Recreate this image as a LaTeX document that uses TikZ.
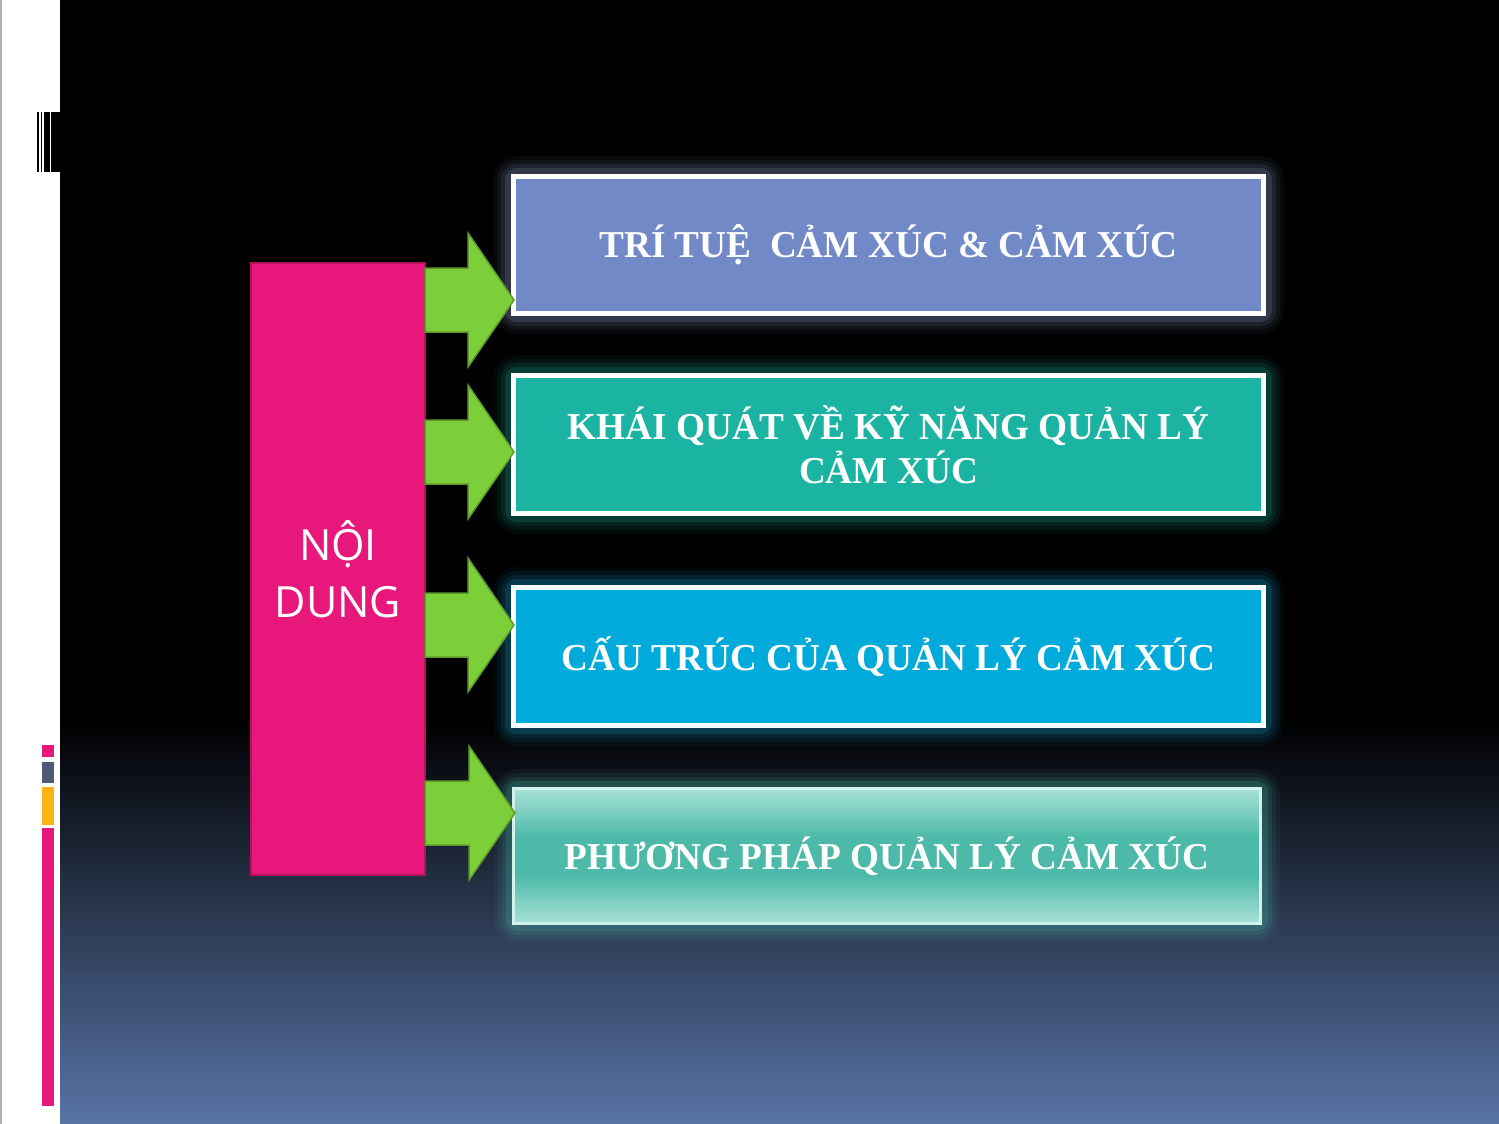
\documentclass[tikz,border=0pt]{standalone}
\usepackage{fontspec}
\setmainfont{Liberation Serif}
\newfontfamily\boxfont[FakeStretch=0.98]{Liberation Serif}
\newfontfamily\sidefont{Open Sans}
\usetikzlibrary{calc}

\definecolor{bgblue}{HTML}{5874A6}
\definecolor{pinkbox}{HTML}{E8177B}
\definecolor{pinkedge}{HTML}{B5125E}
\definecolor{barpink}{HTML}{E8177B}
\definecolor{bargray}{HTML}{4D5C75}
\definecolor{barorange}{HTML}{FDB515}
\definecolor{arrowgreen}{HTML}{7DCF3A}
\definecolor{arrowedge}{HTML}{5E9A2C}
\definecolor{boxone}{HTML}{7289C8}
\definecolor{boxtwo}{HTML}{1BB3A1}
\definecolor{boxthree}{HTML}{00ABDC}
\definecolor{boxfour}{HTML}{4DBAA9}
\definecolor{boxfourlight}{HTML}{A8E2D7}
\definecolor{glowone}{HTML}{9AACDD}
\definecolor{glowtwo}{HTML}{22B8A5}
\definecolor{glowthree}{HTML}{18B0E0}
\definecolor{glowfour}{HTML}{50C8B8}
\pgfdeclareverticalshading{boxfourshade}{100bp}{color(0bp)=(boxfourlight);
  color(25bp)=(boxfourlight); color(43bp)=(boxfour); color(57bp)=(boxfour);
  color(75bp)=(boxfourlight); color(100bp)=(boxfourlight)}

\begin{document}
\begin{tikzpicture}[x=1pt,y=-1pt,
  topic/.style={draw=white,line width=5pt,minimum width=750pt,minimum height=137pt,
    text=white,align=center,font=\boxfont\bfseries\fontsize{38}{44}\selectfont},
  greenarrow/.style={fill=arrowgreen,draw=arrowedge,line width=1.5pt}]
  \useasboundingbox (0,0) rectangle (1499,1124);
  % fundo
  \fill[white] (0,0) rectangle (1499,1124);
  \fill[black] (60,0) rectangle (1499,1124);
  \shade[top color=black,bottom color=bgblue] (60,720) rectangle (1499,1124);
  \draw[gray!60,line width=1.5pt] (0.75,0) -- (0.75,1124);
  % barras da margem
  \foreach \a/\b in {37/38.5,40.5/42,44/49.5,51/60}
    \fill[black] (\a,112) rectangle (\b,172);
  \fill[barpink] (42,745) rectangle (54,757);
  \fill[bargray] (42,762) rectangle (54,783);
  \fill[barorange] (42,787) rectangle (54,825);
  \fill[barpink] (42,828) rectangle (54,1106);
  % brilho
  \foreach \cx/\cy/\w/\h/\c in {888.5/245/755/142/glowone,888.5/444.5/755/143/glowtwo,
      888.5/656.5/755/143/glowthree,887/856/750/138/glowfour}
    \foreach \lw/\op in {36/.05,28/.07,20/.1,12/.16}
      \draw[\c,line width=\lw,opacity=\op,rounded corners=6]
        (\cx-\w/2,\cy-\h/2) rectangle (\cx+\w/2,\cy+\h/2);
  % caixas
  \node[topic,fill=boxone] (b1) at (888.5,245) {TRÍ TUỆ\ \ CẢM XÚC \& CẢM XÚC};
  \node[topic,fill=boxtwo,minimum height=138pt] (b2) at (888.5,444.5)
    {KHÁI QUÁT VỀ KỸ NĂNG QUẢN LÝ\\CẢM XÚC};
  \node[topic,fill=boxthree,minimum height=138pt] (b3) at (888.5,656.5)
    {CẤU TRÚC CỦA QUẢN LÝ CẢM XÚC};
  \node[topic,draw=boxfourlight!50!white,line width=3pt,shading=boxfourshade,
    minimum width=747pt,minimum height=135pt] (b4) at (887,856)
    {PHƯƠNG PHÁP QUẢN LÝ CẢM XÚC};
  % bloco rosa
  \node[draw=pinkedge,fill=pinkbox,line width=2pt,minimum width=174pt,
    minimum height=612pt,text=white,align=center,
    font=\sidefont\fontsize{43}{57}\selectfont] (noi) at (338,569)
    {\raisebox{3pt}{\parbox{150pt}{\centering NỘI\\DUNG}}};
  % setas
  \foreach \b/\dy in {b1/55,b2/7.5,b3/-31.5,b4/-43} {
    \coordinate (t\b) at ($(\b.west)+(3,\dy)$);
    \draw[greenarrow] (t\b) -- ++(-46,-67) -- ++(0,35)
      -- ($(noi.east|-t\b)+(-1,-32)$) -- ($(noi.east|-t\b)+(-1,32)$)
      -- ($(t\b)+(-46,32)$) -- ++(0,35) -- cycle;
  }
\end{tikzpicture}
\end{document}
